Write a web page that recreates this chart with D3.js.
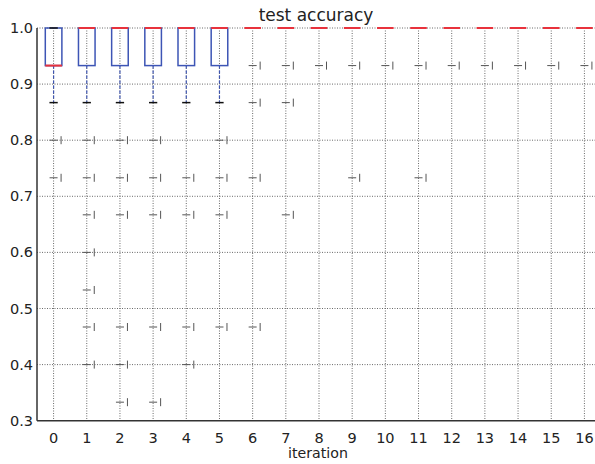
<!DOCTYPE html>
<html>
<head>
<meta charset="utf-8">
<script src="https://cdn.jsdelivr.net/npm/d3@7"></script>
<style>
  body { margin: 0; background: #fff; }
  svg { display: block; font-family: "DejaVu Sans", sans-serif; }
</style>
</head>
<body>
<div id="chart"></div>
<script>
// box stats per iteration
const iterations = [0, 1, 2, 3, 4, 5, 6, 7, 8, 9, 10, 11, 12, 13, 14, 15, 16];
const q1 =       [0.933, 0.933, 0.933, 0.933, 0.933, 0.933, 1, 1, 1, 1, 1, 1, 1, 1, 1, 1, 1];
const medians =  [0.933, 1, 1, 1, 1, 1, 1, 1, 1, 1, 1, 1, 1, 1, 1, 1, 1];
const q3 =       [1, 1, 1, 1, 1, 1, 1, 1, 1, 1, 1, 1, 1, 1, 1, 1, 1];
const whiskLo =  [0.867, 0.867, 0.867, 0.867, 0.867, 0.867, 1, 1, 1, 1, 1, 1, 1, 1, 1, 1, 1];
const whiskHi =  [1, 1, 1, 1, 1, 1, 1, 1, 1, 1, 1, 1, 1, 1, 1, 1, 1];
const fliers = [
  [0.8, 0.733],
  [0.8, 0.733, 0.667, 0.6, 0.533, 0.467, 0.4],
  [0.8, 0.733, 0.667, 0.467, 0.4, 0.333],
  [0.8, 0.733, 0.667, 0.467, 0.333],
  [0.733, 0.667, 0.467, 0.4],
  [0.8, 0.733, 0.667, 0.467],
  [0.933, 0.867, 0.733, 0.467],
  [0.933, 0.867, 0.667],
  [0.933],
  [0.933, 0.733],
  [0.933],
  [0.933, 0.733],
  [0.933],
  [0.933],
  [0.933],
  [0.933],
  [0.933]
];
const yTicks = [0.3, 0.4, 0.5, 0.6, 0.7, 0.8, 0.9, 1.0];

const width = 595, height = 464;
const svg = d3.select('#chart').append('svg')
  .attr('width', width)
  .attr('height', height);

const x = d3.scaleLinear().domain([-0.5, 16.5]).range([37, 601]);
const y = d3.scaleLinear().domain([0.3, 1.0]).range([420.7, 28]);
const step = x(1) - x(0);
const boxW = step * 0.5;
const capW = boxW * 0.5;

// grid
const grid = svg.append('g')
  .attr('stroke', '#444')
  .attr('stroke-width', 0.8)
  .attr('stroke-dasharray', '1,1.5');
grid.selectAll('line.gx')
  .data(iterations)
  .join('line')
  .attr('x1', d => x(d)).attr('x2', d => x(d))
  .attr('y1', y(1.0)).attr('y2', y(0.3));
grid.selectAll('line.gy')
  .data(yTicks.slice(1))
  .join('line')
  .attr('class', 'gy')
  .attr('x1', x(-0.5)).attr('x2', width)
  .attr('y1', d => y(d)).attr('y2', d => y(d));

const boxes = iterations.map((it, i) => ({
  it, q1: q1[i], med: medians[i], q3: q3[i], lo: whiskLo[i], hi: whiskHi[i], fl: fliers[i]
}));

// whiskers
const wg = svg.append('g')
  .attr('stroke', '#3d55b5')
  .attr('stroke-width', 1.2)
  .attr('stroke-dasharray', '3,2');
wg.selectAll('line.lo')
  .data(boxes.filter(d => d.lo < d.q1))
  .join('line')
  .attr('class', 'lo')
  .attr('x1', d => x(d.it)).attr('x2', d => x(d.it))
  .attr('y1', d => y(d.q1)).attr('y2', d => y(d.lo));

// boxes
svg.append('g')
  .selectAll('rect')
  .data(boxes.filter(d => d.q3 > d.q1))
  .join('rect')
  .attr('x', d => x(d.it) - boxW / 2)
  .attr('width', boxW)
  .attr('y', d => y(d.q3))
  .attr('height', d => y(d.q1) - y(d.q3))
  .attr('fill', 'none')
  .attr('stroke', '#3d55b5')
  .attr('stroke-width', 1.5);

// caps
const cg = svg.append('g').attr('stroke', '#111').attr('stroke-width', 1.5);
cg.selectAll('line.cl')
  .data(boxes)
  .join('line')
  .attr('class', 'cl')
  .attr('x1', d => x(d.it) - capW / 2).attr('x2', d => x(d.it) + capW / 2)
  .attr('y1', d => y(d.lo)).attr('y2', d => y(d.lo));
cg.selectAll('line.ch')
  .data(boxes)
  .join('line')
  .attr('class', 'ch')
  .attr('x1', d => x(d.it) - capW / 2).attr('x2', d => x(d.it) + capW / 2)
  .attr('y1', d => y(d.hi)).attr('y2', d => y(d.hi));

// medians
svg.append('g')
  .selectAll('line')
  .data(boxes)
  .join('line')
  .attr('x1', d => x(d.it) - boxW / 2).attr('x2', d => x(d.it) + boxW / 2)
  .attr('y1', d => y(d.med)).attr('y2', d => y(d.med))
  .attr('stroke', '#e8323c')
  .attr('stroke-width', 2);

// fliers: '+' drawn as dash with a bar to the right
const flierPts = boxes.flatMap(d => d.fl.map(v => ({ it: d.it, v })));
const fg = svg.append('g').attr('stroke', '#555').attr('stroke-width', 1);
fg.selectAll('line.fh')
  .data(flierPts)
  .join('line')
  .attr('class', 'fh')
  .attr('x1', d => x(d.it) - 4).attr('x2', d => x(d.it) + 4)
  .attr('y1', d => y(d.v)).attr('y2', d => y(d.v));
fg.selectAll('line.fv')
  .data(flierPts)
  .join('line')
  .attr('class', 'fv')
  .attr('x1', d => x(d.it) + 7.5).attr('x2', d => x(d.it) + 7.5)
  .attr('y1', d => y(d.v) - 4).attr('y2', d => y(d.v) + 4);

// spines
svg.append('line')
  .attr('x1', x(-0.5)).attr('x2', x(-0.5))
  .attr('y1', y(1.0)).attr('y2', y(0.3))
  .attr('stroke', '#333').attr('stroke-width', 1.5);
svg.append('line')
  .attr('x1', x(-0.5)).attr('x2', width)
  .attr('y1', y(0.3)).attr('y2', y(0.3))
  .attr('stroke', '#333').attr('stroke-width', 1.5);

// y tick labels
svg.append('g')
  .selectAll('text')
  .data(yTicks)
  .join('text')
  .attr('x', 33)
  .attr('y', d => y(d) + 5)
  .attr('text-anchor', 'end')
  .attr('font-size', 14.5)
  .attr('fill', '#222')
  .text(d => d3.format('.1f')(d));

// x tick labels
svg.append('g')
  .selectAll('text')
  .data(iterations)
  .join('text')
  .attr('x', d => x(d))
  .attr('y', 443)
  .attr('text-anchor', 'middle')
  .attr('font-size', 14.5)
  .attr('fill', '#222')
  .text(d => d);

svg.append('text')
  .attr('x', 318).attr('y', 458)
  .attr('text-anchor', 'middle')
  .attr('font-size', 14.2)
  .attr('fill', '#222')
  .text('iteration');

svg.append('text')
  .attr('x', 316).attr('y', 21)
  .attr('text-anchor', 'middle')
  .attr('font-size', 17)
  .attr('fill', '#222')
  .text('test accuracy');
</script>
</body>
</html>
